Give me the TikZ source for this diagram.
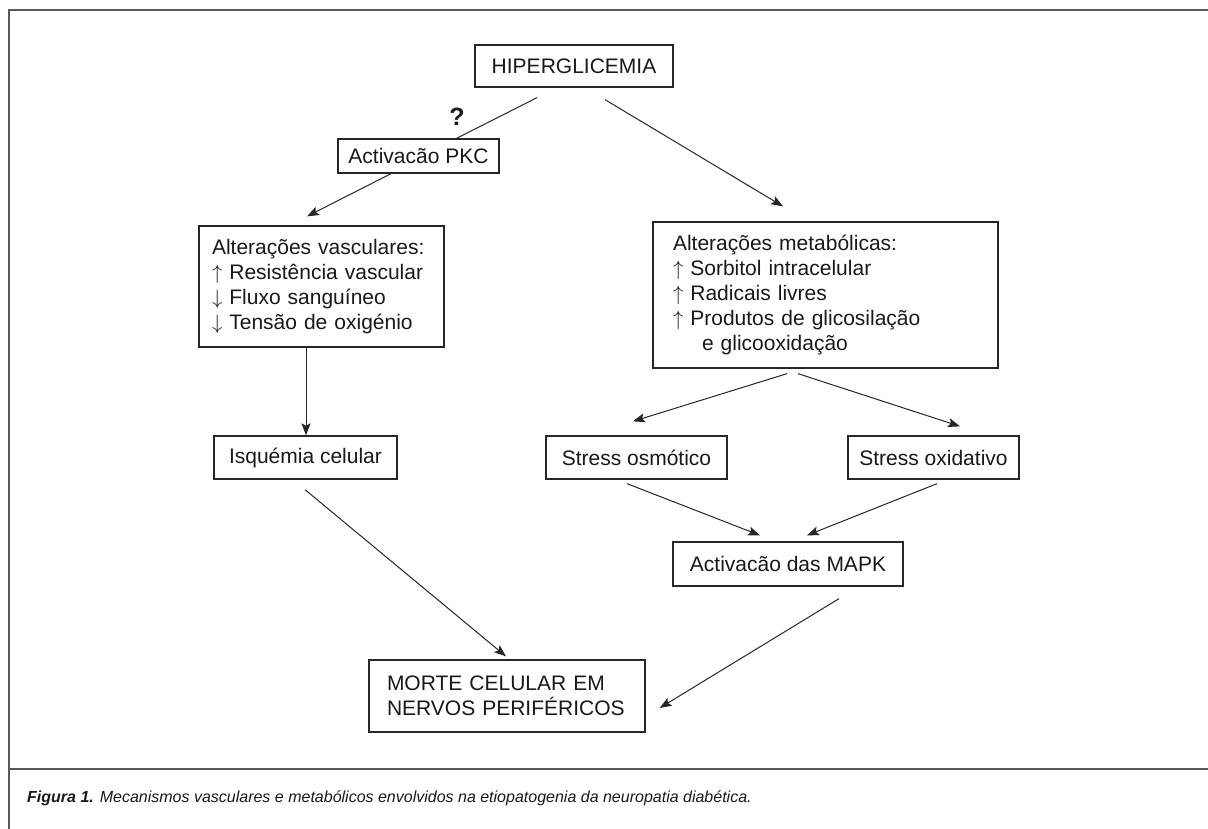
\documentclass[tikz,border=0pt]{standalone}
\usepackage{fontspec}
\setmainfont{Liberation Sans}
\usetikzlibrary{arrows.meta}
\begin{document}
\begin{tikzpicture}[x=1pt,y=-1pt,
  box/.style={draw=black!85, line width=1.3pt, fill=white, inner sep=0pt, text=black!90, font=\fontsize{21}{25}\selectfont, align=center},
  lbox/.style={box, align=left},
  arr/.style={draw=black!85, line width=1pt, -{Stealth[length=12pt,width=9pt,inset=2.5pt]}},
  ln/.style={draw=black!85, line width=1pt},
  framel/.style={draw=black!65, line width=2pt}]
\useasboundingbox (0,0) rectangle (1208,828);
\draw[framel] (9,835) -- (9,10) -- (1215,10);
\draw[framel] (9,769) -- (1215,769);

\node[box, minimum width=198pt, minimum height=42pt] (hyper) at (574,66) {HIPERGLICEMIA};
\node[font=\fontsize{25}{25}\selectfont\bfseries, text=black!90, inner sep=0pt] (q) at (457,117) {?};
\node[box, minimum width=161pt, minimum height=34pt] (pkc) at (418.5,156) {Activacão PKC};
\node[lbox, text width=219pt, inner xsep=13pt, minimum height=121pt] (vasc) at (321.5,286.5)
  {Alterações vasculares:\\ $\uparrow$ Resistência vascular\\ $\downarrow$ Fluxo sanguíneo\\ $\downarrow$ Tensão de oxigénio};
\node[lbox, text width=305pt, inner xsep=20pt, minimum height=146pt] (meta) at (825.5,295)
  {Alterações metabólicas:\\ $\uparrow$ Sorbitol intracelular\\ $\uparrow$ Radicais livres\\ $\uparrow$ Produtos de glicosilação\\ \hspace*{29pt}e glicooxidação};
\node[box, minimum width=183pt, minimum height=43pt] (isq) at (305.5,457.5) {Isquémia celular};
\node[box, minimum width=181pt, minimum height=43pt] (osm) at (636.5,457.5) {Stress osmótico};
\node[box, minimum width=171pt, minimum height=43pt] (oxi) at (933.5,457.5) {Stress oxidativo};
\node[box, minimum width=230pt, minimum height=44pt] (mapk) at (788,564) {Activacão das MAPK};
\node[lbox, text width=240pt, inner xsep=18pt, minimum height=72pt] (morte) at (507,696)
  {MORTE CELULAR EM\\NERVOS PERIFÉRICOS};

\node[anchor=west, inner sep=0pt, text=black!90, font=\fontsize{16}{16}\selectfont\itshape] (cap) at (27,798)
  {\textbf{Figura 1.} Mecanismos vasculares e metabólicos envolvidos na etiopatogenia da neuropatia diabética.};

\draw[ln] ([shift={(-37,10)}]hyper.south) -- ([shift={(38,0)}]pkc.north);
\draw[arr] ([shift={(-27.5,0)}]pkc.south) -- ([shift={(-14.5,-9)}]vasc.north);
\draw[arr] ([shift={(31,12)}]hyper.south) -- ([shift={(-42.5,-15)}]meta.north);
\draw[arr] ([shift={(-15.5,0)}]vasc.south) -- ([shift={(0.5,0)}]isq.north);
\draw[arr] ([shift={(-38.5,5)}]meta.south) -- ([shift={(-3.5,-14)}]osm.north);
\draw[arr] ([shift={(-27.5,5)}]meta.south) -- ([shift={(26.5,-9)}]oxi.north);
\draw[arr] ([shift={(-9.5,4)}]osm.south) -- ([shift={(-28,-6)}]mapk.north);
\draw[arr] ([shift={(3.5,4)}]oxi.south) -- ([shift={(19,-6)}]mapk.north);
\draw[arr] ([shift={(-0.5,10)}]isq.south) -- ([shift={(-1,-3)}]morte.north);
\draw[arr] ([shift={(51,12)}]mapk.south) -- ([shift={(14,12)}]morte.east);
\end{tikzpicture}
\end{document}
